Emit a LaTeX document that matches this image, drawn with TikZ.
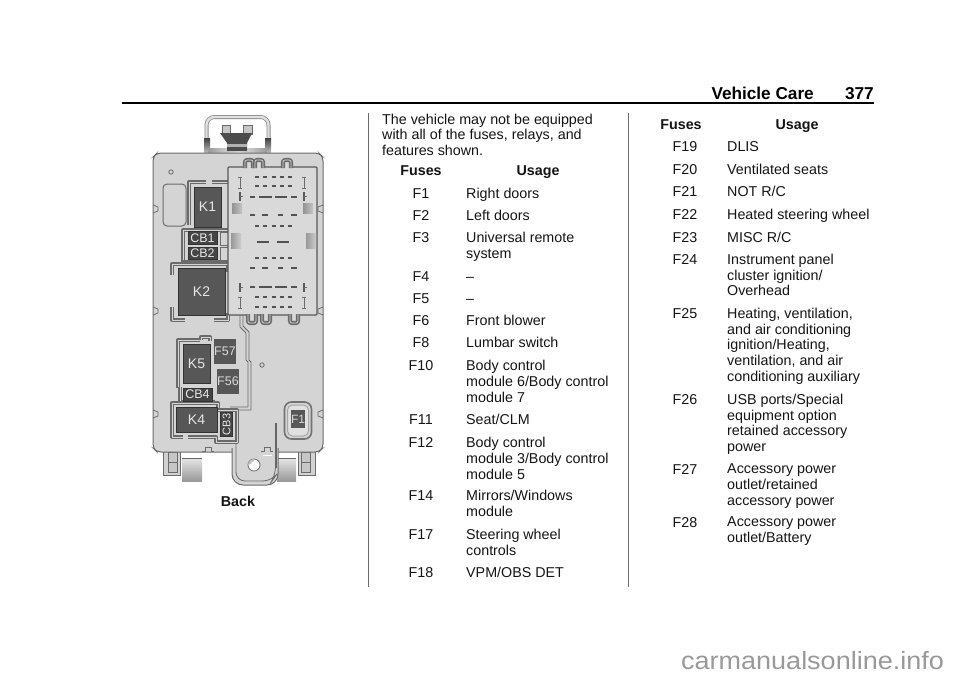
\documentclass[tikz,border=0pt]{standalone}
\usepackage{fontspec}
\setmainfont{Liberation Sans}
\newfontfamily\markfont[FakeStretch=1.08]{Liberation Sans}
\definecolor{bodygray}{gray}{0.83}
\definecolor{linegray}{gray}{0.42}
\definecolor{partgray}{gray}{0.34}
\definecolor{breakgray}{gray}{0.27}
\definecolor{blockgray}{gray}{0.85}
\definecolor{inkgray}{gray}{0.08}
\definecolor{wallgray}{gray}{0.42}
\tikzset{
	bodypart/.style={draw=linegray,fill=bodygray,line width=0.8pt},
	groove/.style={draw=wallgray,line width=1.7pt,double=bodygray,double distance=0.7pt,line join=round},
	thinline/.style={draw=linegray,line width=0.8pt,line join=round},
	relay/.style={draw=black!80,fill=partgray,text=white!90!black,inner sep=0pt,line width=0.9pt,font=\fontsize{14}{14}\selectfont},
	breaker/.style={relay,fill=breakgray,font=\fontsize{12.5}{13}\selectfont},
	smallfuse/.style={relay,draw=none,fill=partgray,text=white!85!black},
	pin/.style={line width=2pt,draw=black!68},
	fusecol/.style={anchor=north,inner sep=0pt,text=inkgray,font=\fontsize{14.3}{15.8}\selectfont,execute at begin node={\rule{0pt}{10.5pt}}},
	usecol/.style={fusecol,anchor=north west,align=left},
	headcol/.style={fusecol,font=\fontsize{14.3}{15.8}\selectfont\bfseries},
}
\begin{document}
\begin{tikzpicture}[x=1pt,y=-1pt]
	\useasboundingbox (0,0) rectangle (960,678);

	% page head
	\draw[black,line width=1.5pt] (122,103) -- (874,103);
	\node[anchor=base east,inner sep=0pt,font=\fontsize{17.2}{17}\selectfont\bfseries] (chapter) at (814,99) {Vehicle Care};
	\node[anchor=base east,inner sep=0pt,font=\fontsize{17.2}{17}\selectfont\bfseries] (pagenum) at (874,99) {377};

	% column rules
	\draw[linegray,line width=1pt] (368,113) -- (368,587);
	\draw[linegray,line width=1pt] (628,113) -- (628,587);

	% handle and clip
	\draw[draw=black!45,line width=4pt,rounded corners=8pt] (206.5,153) -- (206.5,117) -- (268.5,117) -- (268.5,153);
	\draw[draw=black!12,line width=2.4pt,rounded corners=8pt] (206.5,153) -- (206.5,117) -- (268.5,117) -- (268.5,153);
	\shade[top color=black!75,bottom color=black!25] (204,138) rectangle (210,153);
	\shade[top color=black!75,bottom color=black!25] (265,138) rectangle (271,153);
	\shade[left color=black!40,right color=black!40,middle color=black!8] (208,148) rectangle (267,153);
	\draw[bodypart,fill=gray!45] (222,125) rectangle (230,134) (243,125) rectangle (252,134);
	\fill[black!70] (220,133) -- (252,133) -- (247,143) -- (247,151) -- (227,151) -- (227,143) -- cycle;
	\fill[black!30] (227,143.5) rectangle (247,147);

	% feet below the body
	\draw[bodypart,fill=gray!35,line width=1pt] (163,448) rectangle (180,475);
	\draw[bodypart,fill=gray!45] (168,452) rectangle (177,462) (168,462) rectangle (177,472);
	\draw[bodypart,fill=gray!35,line width=1pt] (298,448) rectangle (315,475);
	\draw[bodypart,fill=gray!45] (301,452) rectangle (310,462) (301,462) rectangle (310,472);
	\shade[top color=gray!20,bottom color=gray!80] (182,458) rectangle (202,481);
	\shade[top color=gray!20,bottom color=gray!80] (277,458) rectangle (296,481);
	\draw[black!60,line width=1pt] (182,458) -- (202,458) (277,458) -- (296,458);

	% fuse block body
	\draw[bodypart,rounded corners=4pt,line width=1pt] (153,157) -- (157,153) -- (319,153) -- (323,157) -- (323,448) -- (319,452) -- (157,452) -- (153,448) -- cycle;
	\draw[bodypart,rounded corners=11pt,line width=1pt] (232,448) -- (232,485) -- (278,485) -- (278,448);
	\fill[bodygray] (233,445) rectangle (277,453);
	\draw[thinline,rounded corners=9pt] (236,442) -- (236,481) -- (272,481) -- (275.5,476) -- (275.5,424);
	\draw[black!60,line width=2pt] (275.5,423) -- (275.5,468);
	\draw[linegray,fill=white,line width=0.8pt] (254,465) circle (6);
	\fill[gray!50] (248,465) arc (180:270:6) -- (254,461) arc (270:180:3) -- cycle;
	\draw[bodypart] (171,172) circle (2.2);
	\draw[bodypart] (262,365) circle (2.2);
	\draw[bodypart,rounded corners=4pt,line width=1pt] (163,184) rectangle (186,226);
	\draw[white,line width=1pt] (263,455) -- (272,455);
	\foreach \x in {208,267} {
		\draw[thinline] (\x-6,451) -- (\x-3,451) -- (\x-3,447) -- (\x+3,447) -- (\x+3,451) -- (\x+6,451);
	}
	\foreach \y in {205,307,410} {
		\draw[thinline] (153,\y) -- (158,\y+2) -- (158,\y+6) -- (153,\y+8);
		\draw[thinline] (323,\y) -- (318,\y+2) -- (318,\y+6) -- (323,\y+8);
	}

	% channel walls on the lower half
	\draw[thinline] (240,315) -- (240,327) -- (246,333) -- (246,360) -- (248,362) -- (248,407) -- (230,407);
	\draw[thinline] (243,315) -- (243,326) -- (249,332) -- (249,360) -- (251,362) -- (251,410) -- (237,410);
	\draw[groove] (178,388) -- (178,340) -- (200,340);
	\draw[groove] (201,340) -- (201,337) -- (210,337) -- (210,341);
	\draw[groove] (180,387) -- (180,402) -- (215,402);
	\draw[groove] (172,425) -- (172,403) -- (218,403) -- (218,410);
	\draw[groove] (172,425) -- (172,437) -- (183,437);
	\draw[groove] (188,437) -- (216,437) -- (216,442) -- (237,442) -- (237,410) -- (218,410);

	% channel walls on the upper half
	\draw[groove] (189,225) -- (189,182) -- (206,182) (212,182) -- (228,182);
	\draw[groove] (183,262) -- (183,230) -- (228,230);
	\draw[groove] (183,262) -- (228,262);
	\draw[thinline] (220,232) rectangle (228,245) (220,247) rectangle (228,261);
	\draw[groove] (172,275) -- (172,264) -- (228,264) -- (228,272);
	\draw[groove] (172,307) -- (172,320) -- (185,320) (214,320) -- (228,320) -- (228,313);

	% connector block
	\draw[draw=black!65,fill=blockgray,line width=1.3pt,rounded corners=1pt] (228,167) rectangle (317,315);
	\foreach \x in {245,255,283} {
		\draw[groove,rounded corners=2pt,fill=blockgray] (\x,168) -- (\x,160) -- (\x+8,160) -- (\x+8,168);
	}
	\foreach \x in {248,262,290} {
		\draw[groove,rounded corners=2pt,fill=blockgray] (\x,314) -- (\x,323) -- (\x+8,323) -- (\x+8,314);
	}
	\foreach \x in {232,303} {
		\shade[left color=gray!85,right color=gray!45] (\x,203) rectangle (\x+10,213);
	}
	\foreach \x in {231,306} {
		\shade[left color=gray!80,right color=gray!40] (\x,233) rectangle (\x+10,248);
	}
	\foreach \x in {240,304} {
		\foreach \y in {177,297} {
			\draw[thinline] (\x-2,\y) -- (\x+2,\y) (\x,\y) -- (\x,\y+11) (\x-2,\y+11) -- (\x+2,\y+11);
		}
		\foreach \y in {192,283} {
			\draw[black!65,line width=1.3pt] (\x,\y) -- (\x,\y+9);
			\draw[thinline] (\x,\y+4) -- (\x+3,\y+4);
		}
	}

	% contact rows of the connector
	\foreach \y in {176.7,186,226,257.7,297.3,306.7} {
		\foreach \x in {257,265.3,273.6,282,290.3} {
			\draw[pin] (\x-1.9,\y) -- (\x+1.9,\y);
		}
	}
	\foreach \y in {197.3,286.7} {
		\foreach \a/\b in {250/255,259/272,275/286.5,291/296.5} {
			\draw[pin] (\a,\y) -- (\b,\y);
		}
	}
	\foreach \y in {215,268.3} {
		\foreach \a/\b in {250/255,262/268,278/283,291/296.5} {
			\draw[pin] (\a,\y) -- (\b,\y);
		}
	}
	\foreach \a/\b in {257/269,277/289} {
		\draw[pin] (\a,241.7) -- (\b,241.7);
	}

	% fuse holder around F1
	\draw[draw=black!55,fill=bodygray,rounded corners=7pt,line width=1.6pt] (284.5,402) rectangle (311.5,439);
	\draw[draw=black!35,fill=black!12,rounded corners=5pt,line width=1pt] (287.5,405) rectangle (308.5,436);

	% relays, breakers and fuses
	\node[relay,minimum width=27pt,minimum height=40pt] (k1) at (207.5,207) {K1};
	\node[breaker,minimum width=29pt,minimum height=12.5pt] (cb1) at (202.5,238) {CB1};
	\node[breaker,minimum width=29pt,minimum height=12.5pt] (cb2) at (202.5,253.5) {CB2};
	\node[relay,minimum width=47pt,minimum height=47pt] (k2) at (201.5,291.5) {K2};
	\node[relay,minimum width=27pt,minimum height=39pt] (k5) at (196.5,363.5) {K5};
	\node[smallfuse,minimum width=22pt,minimum height=25pt,font=\fontsize{12.5}{13}\selectfont] (f57) at (225,351.5) {F57};
	\node[smallfuse,minimum width=22pt,minimum height=25pt,font=\fontsize{12.5}{13}\selectfont] (f56) at (228,381.5) {F56};
	\node[breaker,minimum width=29pt,minimum height=13pt] (cb4) at (197.5,394.5) {CB4};
	\node[relay,minimum width=41pt,minimum height=25pt] (k4) at (196.5,419.5) {K4};
	\node[breaker,rotate=90,minimum width=24pt,minimum height=11.5pt,font=\fontsize{11}{11}\selectfont] (cb3) at (226.5,424.5) {CB3};
	\node[smallfuse,minimum width=14pt,minimum height=18pt,font=\fontsize{12}{12}\selectfont] (f1) at (298,419) {F1};
	\node[headcol] (back) at (238,495.5) {Back};

	% second column
	\node[usecol] (intro) at (382,113.5) {The vehicle may not be equipped\\with all of the fuses, relays, and\\features shown.};
	\node[headcol] (fuseshead) at (421,164.5) {Fuses};
	\node[headcol] (usagehead) at (538,164.5) {Usage};
	\foreach \y/\f/\u in {
		187.5/F1/Right doors,
		209.5/F2/Left doors,
		232/F3/{Universal remote\\system},
		271/F4/–,
		293/F5/–,
		315/F6/Front blower,
		337/F8/Lumbar switch,
		360/F10/{Body control\\module 6/Body control\\module 7},
		414/F11/{Seat/CLM},
		437/F12/{Body control\\module 3/Body control\\module 5},
		490/F14/{Mirrors/Windows\\module},
		529/F17/{Steering wheel\\controls},
		567/F18/{VPM/OBS DET}} {
		\node[fusecol] (name\f) at (421,\y) {\f};
		\node[usecol] (use\f) at (466,\y) {\u};
	}

	% third column
	\node[headcol] (fuseshead2) at (681,118.7) {Fuses};
	\node[headcol] (usagehead2) at (797,118.7) {Usage};
	\foreach \y/\f/\u in {
		140.7/F19/DLIS,
		163.7/F20/Ventilated seats,
		185.7/F21/{NOT R/C},
		208.7/F22/Heated steering wheel,
		231.7/F23/{MISC R/C},
		253.7/F24/{Instrument panel\\cluster ignition/\\Overhead},
		307.7/F25/{Heating, ventilation,\\and air conditioning\\ignition/Heating,\\ventilation, and air\\conditioning auxiliary},
		393.7/F26/{USB ports/Special\\equipment option\\retained accessory\\power},
		463.7/F27/{Accessory power\\outlet/retained\\accessory power},
		516.7/F28/{Accessory power\\outlet/Battery}} {
		\node[fusecol] (name\f) at (685,\y) {\f};
		\node[usecol] (use\f) at (727,\y) {\u};
	}

	\node[anchor=base west,inner sep=0pt,text=gray!80,font=\markfont\fontsize{25}{25}\selectfont] (watermark) at (681,669) {carmanualsonline.info};
\end{tikzpicture}
\end{document}
